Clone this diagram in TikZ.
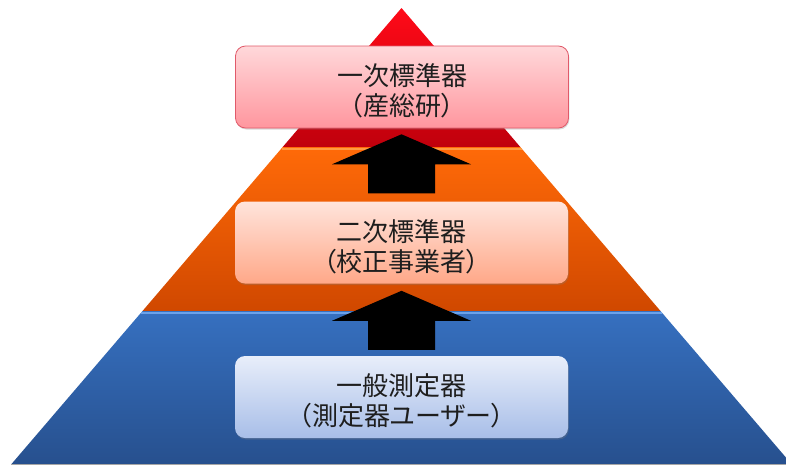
\documentclass[tikz,border=0pt]{standalone}
\usepackage{fontspec}
\usetikzlibrary{shadows}
\newfontfamily\jpfont[RawFeature=+palt]{Noto Sans CJK JP}
\definecolor{redtop}{HTML}{FF0A18}
\definecolor{redbot}{HTML}{C0000C}
\definecolor{orgtop}{HTML}{FF6A08}
\definecolor{orgbot}{HTML}{D04800}
\definecolor{orgline}{HTML}{FF9A40}
\definecolor{bluetop}{HTML}{3670C0}
\definecolor{bluebot}{HTML}{27508E}
\definecolor{blueline}{HTML}{6CA2EA}
\definecolor{txt}{HTML}{1E1E1E}
\definecolor{b1line}{HTML}{E05A6A}
\definecolor{b1top}{HTML}{FFD8DA}
\definecolor{b1bot}{HTML}{FF969E}
\definecolor{b2top}{HTML}{FFE4DC}
\definecolor{b2bot}{HTML}{FFA888}
\definecolor{b3top}{HTML}{E8EEFA}
\definecolor{b3bot}{HTML}{A8BEE8}
\tikzset{
  lvbox/.style={rounded corners=10pt, minimum width=333pt, minimum height=82pt,
    inner sep=0pt, drop shadow={opacity=0.3, shadow xshift=0.8pt, shadow yshift=-1.5pt}},
  lvtext/.style={align=center, font=\jpfont\fontsize{26}{30}\selectfont, text=txt, inner sep=0pt, yshift=-4pt},
  uparrow/.pic={\fill[black] (-33.5,0) -- (33.5,0) -- (33.5,-29) -- (69.5,-29) -- (0,-59) -- (-69.5,-29) -- (-33.5,-29) -- cycle;}
}
\begin{document}
\begin{tikzpicture}[x=1pt,y=-1pt]
\useasboundingbox (0,0) rectangle (786,466);
\begin{scope}
\clip (0,0) rectangle (786,466);
% pyramid bands
\path[top color=redtop, bottom color=redbot] (401.5,8) -- (520.3,147) -- (282.7,147) -- cycle;
\path[top color=orgtop, bottom color=orgbot] (282.7,147) -- (520.3,147) -- (660.5,311) -- (142.5,311) -- cycle;
\path[top color=bluetop, bottom color=bluebot] (142.5,311) -- (660.5,311) -- (791.5,464) -- (11.5,464) -- cycle;
\draw[orgline, line width=2pt] (281.5,148.5) -- (521.5,148.5);
\draw[blueline, line width=2.5pt] (141,313) -- (662,313);
\draw[gray!70, line width=1.5pt] (11,464.5) -- (786,464.5);
\end{scope}
% boxes
\node[lvbox, draw=b1line, line width=0.8pt, top color=b1top, bottom color=b1bot,
  label={[lvtext]center:一次標準器\\（産総研）}] (b1) at (402,87) {};
\node[lvbox, top color=b2top, bottom color=b2bot,
  label={[lvtext]center:二次標準器\\（校正事業者）}] (b2) at (401.5,242.5) {};
\node[lvbox, top color=b3top, bottom color=b3bot,
  label={[lvtext]center:一般測定器\\（測定器ユーザー）}] (b3) at (401.5,397) {};
% arrows
\pic at ([yshift=8pt]b2.north) {uparrow};
\pic at ([yshift=6pt]b3.north) {uparrow};
\end{tikzpicture}
\end{document}
